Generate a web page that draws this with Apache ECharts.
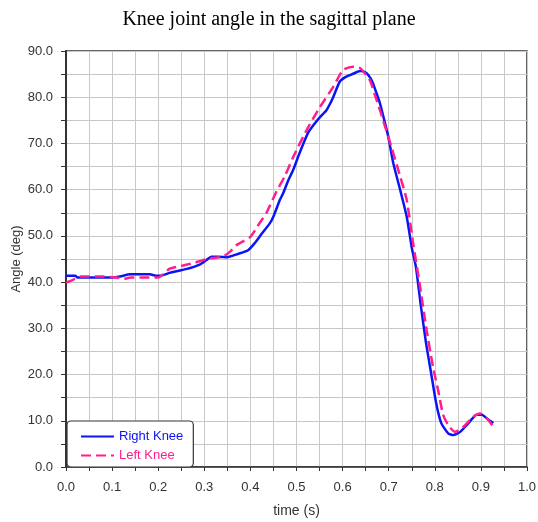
<!DOCTYPE html>
<html>
<head>
<meta charset="utf-8">
<script src="https://cdn.jsdelivr.net/npm/echarts@6/dist/echarts.min.js"></script>
<style>
html,body{margin:0;padding:0;background:#fff;}
#chart{width:538px;height:522px;}
</style>
</head>
<body>
<div id="chart"></div>
<script>
const titleText = 'Knee joint angle in the sagittal plane';
const seriesNames = ['Right Knee', 'Left Knee'];
const xTicks = { min: 0, max: 1.0, step: 0.1 };
const yTicks = { min: 0, max: 90, step: 10 };

const rightTime = [0.000,0.020,0.025,0.060,0.100,0.117,0.139,0.160,0.182,0.195,0.205,0.225,0.260,0.290,0.305,0.315,0.330,0.350,0.370,0.395,0.410,0.421,0.442,0.450,0.464,0.471,0.482,0.493,0.505,0.515,0.525,0.537,0.550,0.565,0.575,0.580,0.594,0.605,0.616,0.630,0.638,0.645,0.652,0.660,0.666,0.672,0.681,0.690,0.699,0.710,0.725,0.739,0.750,0.759,0.770,0.781,0.792,0.803,0.814,0.829,0.840,0.855,0.873,0.891,0.902,0.913,0.927];
const rightAngle = [41.4,41.4,41.0,41.0,41.0,41.2,41.7,41.7,41.7,41.4,41.4,42.0,42.8,43.8,44.8,45.5,45.5,45.4,46.0,46.9,48.5,50.0,52.7,54.2,57.8,59.2,62.0,64.3,67.5,70.0,72.3,74.0,75.6,77.2,79.0,80.1,83.4,84.3,84.8,85.4,85.7,85.6,85.2,84.2,83.0,81.3,78.7,75.2,71.5,65.7,59.9,54.2,47.5,43.3,34.7,26.8,20.3,13.8,9.5,7.3,6.9,7.6,9.5,11.3,11.3,10.5,9.5];

const leftTime = [0.000,0.015,0.030,0.080,0.110,0.125,0.140,0.170,0.200,0.225,0.250,0.276,0.305,0.340,0.356,0.370,0.400,0.420,0.435,0.456,0.475,0.493,0.522,0.551,0.580,0.601,0.623,0.638,0.659,0.670,0.681,0.699,0.725,0.739,0.753,0.767,0.781,0.796,0.807,0.818,0.829,0.844,0.862,0.884,0.898,0.913,0.927];
const leftAngle = [39.9,40.5,41.2,41.2,41.0,40.7,41.0,41.0,41.0,42.9,43.5,44.1,45.0,45.5,46.6,48.0,49.8,52.8,55.0,59.5,63.0,67.1,72.9,77.9,82.3,85.9,86.6,86.3,83.7,80.5,77.2,71.5,62.8,57.8,48.4,39.7,30.4,21.7,16.7,11.3,9.1,7.6,8.7,10.9,11.6,10.5,8.7];

const zip = (a, b) => a.map((t, i) => [t, b[i]]);

const chart = echarts.init(document.getElementById('chart'), null, { renderer: 'canvas' });
const axisFont = { fontFamily: 'Liberation Sans, Arial, sans-serif', fontSize: 13, color: '#333' };
const gridLine = { show: true, lineStyle: { color: '#c8c8c8', width: 1 } };

chart.setOption({
  animation: false,
  backgroundColor: '#fff',
  title: {
    text: titleText, left: 'center', top: 5,
    textStyle: { fontFamily: 'Liberation Serif, Times New Roman, serif', fontSize: 20, fontWeight: 'normal', color: '#000' }
  },
  grid: { left: 66, right: 11, top: 51, bottom: 55, containLabel: false, outerBoundsMode: 'none', show: true, borderColor: '#333', borderWidth: 1.5, backgroundColor: '#fff' },
  legend: {
    orient: 'vertical', left: 67, top: 421,
    padding: [9, 10, 5, 13], itemGap: 6, itemWidth: 33, itemHeight: 12,
    backgroundColor: '#fff', borderColor: '#333', borderWidth: 1.2, borderRadius: 4,
    itemStyle: { color: 'transparent', borderWidth: 0, opacity: 0 },
    textStyle: { fontFamily: 'Liberation Sans, Arial, sans-serif', fontSize: 13 },
    data: [
      { name: seriesNames[0], textStyle: { color: '#0a14f5' } },
      { name: seriesNames[1], textStyle: { color: '#ff1e8c' } }
    ]
  },
  xAxis: {
    type: 'value', min: xTicks.min, max: xTicks.max, interval: xTicks.step,
    name: 'time (s)', nameLocation: 'middle', nameGap: 37, nameMoveOverlap: false,
    nameTextStyle: Object.assign({}, axisFont, { fontSize: 14 }),
    axisLine: { show: true, lineStyle: { color: '#333', width: 1.5 } },
    axisTick: { show: true, inside: false, length: 4, lineStyle: { color: '#333' } },
    minorTick: { show: true, splitNumber: 2, length: 4, lineStyle: { color: '#333' } },
    axisLabel: Object.assign({ margin: 14, formatter: v => v.toFixed(1) }, axisFont),
    splitLine: gridLine,
    minorSplitLine: gridLine
  },
  yAxis: {
    type: 'value', min: yTicks.min, max: yTicks.max, interval: yTicks.step,
    name: 'Angle (deg)', nameLocation: 'middle', nameGap: 43, nameMoveOverlap: false,
    nameTextStyle: axisFont,
    axisLine: { show: true, lineStyle: { color: '#333', width: 2 } },
    axisTick: { show: true, inside: false, length: 5, lineStyle: { color: '#333' } },
    minorTick: { show: true, splitNumber: 2, length: 5, lineStyle: { color: '#333' } },
    axisLabel: Object.assign({ margin: 13, formatter: v => v.toFixed(1) }, axisFont),
    splitLine: gridLine,
    minorSplitLine: gridLine
  },
  series: [
    {
      name: seriesNames[0], type: 'line', data: zip(rightTime, rightAngle),
      showSymbol: false, symbol: 'none', z: 3, smooth: 0.2,
      color: '#0a14f5',
      lineStyle: { color: '#0a14f5', width: 2.5 }
    },
    {
      name: seriesNames[1], type: 'line', data: zip(leftTime, leftAngle),
      showSymbol: false, symbol: 'none', z: 4, smooth: 0.2,
      color: '#ff1e8c',
      lineStyle: { color: '#ff1e8c', width: 2.5, type: [10, 5] }
    }
  ]
});
</script>
</body>
</html>
